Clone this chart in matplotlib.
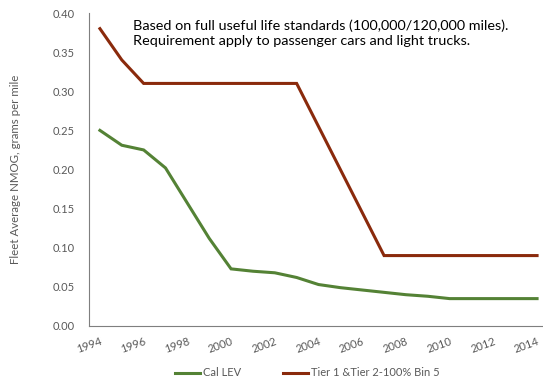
"""Fleet average NMOG standards: California LEV vs federal Tier 1/Tier 2."""

import matplotlib
matplotlib.use("Agg")
import matplotlib.pyplot as plt
from matplotlib.lines import Line2D

years = list(range(1994, 2015))
cal_lev = [0.250, 0.231, 0.225, 0.202, 0.157, 0.112, 0.073, 0.070, 0.068, 0.062,
           0.053, 0.049, 0.046, 0.043, 0.040, 0.038, 0.035, 0.035, 0.035, 0.035, 0.035]
tier = [0.38, 0.34, 0.31, 0.31, 0.31, 0.31, 0.31, 0.31, 0.31, 0.31,
        0.255, 0.20, 0.145, 0.09, 0.09, 0.09, 0.09, 0.09, 0.09, 0.09, 0.09]
series_names = ["Cal LEV", "Tier 1 &Tier 2-100% Bin 5"]
year_ticks = list(range(1994, 2015, 2))
y_ticks = [0.00, 0.05, 0.10, 0.15, 0.20, 0.25, 0.30, 0.35, 0.40]
note = ("Based on full useful life standards (100,000/120,000 miles).\n"
        "Requirement apply to passenger cars and light trucks.")

GREEN = "#548235"
RED = "#8a2a0c"
GREY = "#595959"

plt.rcParams["font.family"] = ["Lato", "DejaVu Sans"]

W, H = 543, 381
fig = plt.figure(figsize=(W / 100, H / 100), dpi=100)
# plot area runs past the right edge, so the last year sits close to the border
ax = fig.add_axes([89 / W, 55 / H, (548 - 89) / W, 313 / H])

ax.plot(years, cal_lev, color=GREEN, lw=2.2, solid_joinstyle="miter")
ax.plot(years, tier, color=RED, lw=2.2, solid_joinstyle="miter")

ax.set_xlim(1993.5, 2014.5)
ax.set_ylim(0, 0.40)
ax.set_yticks(y_ticks)
ax.set_yticklabels([f"{v:.2f}" for v in y_ticks])
ax.set_xticks(year_ticks)
ax.set_xticklabels([str(y) for y in year_ticks], rotation=20,
                   ha="right", rotation_mode="anchor")
ax.tick_params(axis="both", length=0, labelsize=8, colors=GREY)
ax.tick_params(axis="y", pad=10)
ax.tick_params(axis="x", pad=7)

for side in ("top", "right"):
    ax.spines[side].set_visible(False)
ax.spines["left"].set_color("#7f7f7f")
ax.spines["bottom"].set_color("#7f7f7f")

ax.set_ylabel("Fleet Average NMOG, grams per mile", color=GREY, fontsize=8.3)
ax.yaxis.set_label_coords(-68 / 459, 0.5)

fig.text(133 / W, 1 - 19 / H, note, fontsize=10.4, color="black",
         va="top", ha="left", linespacing=1.3)

handles = [Line2D([], [], color=GREEN, lw=2.2), Line2D([], [], color=RED, lw=2.2)]
fig.legend(handles, series_names, loc="center", bbox_to_anchor=(307 / W, 1 - 373 / H),
           ncol=2, frameon=False, fontsize=8, labelcolor=GREY, handlelength=2.3,
           handletextpad=0.2, columnspacing=3.8)

fig.savefig("out.png", dpi=100)
